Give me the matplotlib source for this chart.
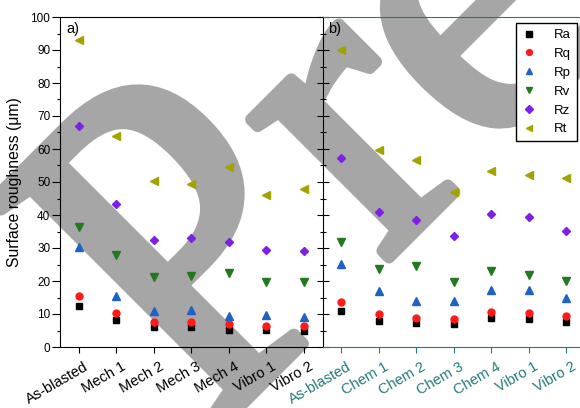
import numpy as np
import matplotlib
matplotlib.use("Agg")
import matplotlib.pyplot as plt
from matplotlib.ticker import MultipleLocator
from matplotlib.transforms import ScaledTranslation, Affine2D
from matplotlib.textpath import TextPath
from matplotlib.font_manager import FontProperties
from matplotlib.patches import PathPatch

plt.rcParams['font.family'] = ['Liberation Sans', 'DejaVu Sans']

# panel a) mechanical finishing
cats_a = ['As-blasted', 'Mech 1', 'Mech 2', 'Mech 3', 'Mech 4', 'Vibro 1', 'Vibro 2']
ra_a = [12.3, 8.2, 6.0, 6.0, 5.2, 5.2, 4.8]
rq_a = [15.5, 10.2, 7.5, 7.5, 7.0, 6.5, 6.3]
rp_a = [30.4, 15.5, 10.9, 11.2, 9.4, 9.6, 9.2]
rv_a = [36.5, 27.8, 21.3, 21.5, 22.3, 19.6, 19.7]
rz_a = [67.0, 43.3, 32.4, 32.9, 31.9, 29.4, 29.1]
rt_a = [93.0, 64.0, 50.4, 49.4, 54.6, 46.1, 47.9]

# panel b) chemical finishing
cats_b = ['As-blasted', 'Chem 1', 'Chem 2', 'Chem 3', 'Chem 4', 'Vibro 1', 'Vibro 2']
ra_b = [10.8, 7.9, 7.2, 7.0, 8.9, 8.5, 7.6]
rq_b = [13.5, 10.0, 8.9, 8.5, 10.7, 10.2, 9.3]
rp_b = [25.2, 17.1, 14.0, 13.8, 17.3, 17.3, 14.8]
rv_b = [31.9, 23.7, 24.5, 19.7, 22.9, 21.8, 20.1]
rz_b = [57.2, 40.8, 38.5, 33.6, 40.3, 39.3, 35.2]
rt_b = [90.0, 59.7, 56.7, 46.9, 53.3, 52.1, 51.3]

names = ['Ra', 'Rq', 'Rp', 'Rv', 'Rz', 'Rt']
markers = ['s', 'o', '^', 'v', 'D', '<']
sizes = [4.6, 5.0, 5.6, 5.6, 4.3, 5.6]
colors = ['#000000', '#ff1a1a', '#1f62c4', '#217a1f', '#7f1fe6', '#a3a300']
teal = '#227a7a'

fig = plt.figure(figsize=(5.8, 4.08), dpi=100)
ax1 = fig.add_axes([60/580, 61/408, 262.5/580, 330/408])
ax2 = fig.add_axes([322.5/580, 61/408, 262.5/580, 330/408], sharey=ax1)

shift = ScaledTranslation(5/100, 0, fig.dpi_scale_trans)
for ax, cats, series in ((ax1, cats_a, (ra_a, rq_a, rp_a, rv_a, rz_a, rt_a)),
                         (ax2, cats_b, (ra_b, rq_b, rp_b, rv_b, rz_b, rt_b))):
    ax.set_facecolor('none')
    x = np.arange(len(cats))
    for vals, name, m, s, c in zip(series, names, markers, sizes, colors):
        ax.plot(x, vals, ls='none', marker=m, ms=s, color=c, mec=c, label=name)
    ax.set_xlim(-0.5, len(cats) - 0.5)
    ax.set_xticks(x)
    ax.set_xticklabels(cats, rotation=30, ha='right', va='top', rotation_mode='anchor', fontsize=10.5)
    ax.tick_params(axis='x', direction='out', length=4, width=0.8, pad=5)
    for lbl in ax.get_xticklabels():
        lbl.set_transform(lbl.get_transform() + shift)

ax1.set_ylim(0, 100)
ax1.yaxis.set_major_locator(MultipleLocator(10))
ax1.yaxis.set_minor_locator(MultipleLocator(5))
ax1.tick_params(axis='y', which='major', direction='out', length=6, width=0.8, labelsize=8.5, pad=1)
ax1.tick_params(axis='y', which='minor', direction='out', length=2.5, width=0.8)
ax1.spines['right'].set_visible(False)
ax1.set_ylabel('Surface roughness (μm)', fontsize=11.3, labelpad=6)

ax2.tick_params(axis='y', which='major', direction='inout', length=8, width=0.8, labelleft=False)
ax2.tick_params(axis='y', which='minor', direction='inout', length=4.5, width=0.8)
ax2.spines['right'].set_visible(False)
for side in ('top', 'bottom'):
    ax2.spines[side].set_color(teal)
ax2.tick_params(axis='x', colors=teal)
for lbl in ax2.get_xticklabels():
    lbl.set_color(teal)

ax1.text(0.025, 0.985, 'a)', transform=ax1.transAxes, fontsize=10.5, va='top')
ax2.text(0.02, 0.985, 'b)', transform=ax2.transAxes, fontsize=10.5, va='top')

ax2.legend(loc='upper right', bbox_to_anchor=(577/580, 385/408), bbox_transform=fig.transFigure,
           fontsize=9.5, frameon=True, fancybox=False, edgecolor='black', framealpha=1,
           borderaxespad=0, borderpad=0.45, handlelength=1.0, handletextpad=1.4,
           labelspacing=0.5, numpoints=1, markerscale=0.85)

# preprint watermark, serif "Pre" turned 45 deg behind the data
serif = FontProperties(family='Liberation Serif')
stroke_px = 12
r2 = np.sqrt(0.5)

def frame_pt(s, h):
    # s along the tilted baseline, h across it, in pixels (display coords)
    return 327.5 + (s - h) * r2, 80.5 + (s + h) * r2

def add_glyphs(txt, u0, sx, sy, s_t, h_t):
    tp = TextPath((0, 0), txt, size=1, prop=serif)
    tr = Affine2D().translate(-u0, 0).scale(sx, sy).rotate_deg(45).translate(*frame_pt(s_t, h_t))
    fig.add_artist(PathPatch(tp, transform=tr, facecolor='#a6a6a6', edgecolor='#a6a6a6',
                             lw=stroke_px * 0.72, joinstyle='round', zorder=-1))

bb_p = TextPath((0, 0), 'P', size=1, prop=serif).get_extents()
bb_r = TextPath((0, 0), 'r', size=1, prop=serif).get_extents()
add_glyphs('P', (bb_p.x0 + bb_p.x1) / 2, 420, 490, -45, 6)
add_glyphs('re', bb_r.x0, 425, 425, 93, 6)

fig.savefig('out.png', dpi=100)
